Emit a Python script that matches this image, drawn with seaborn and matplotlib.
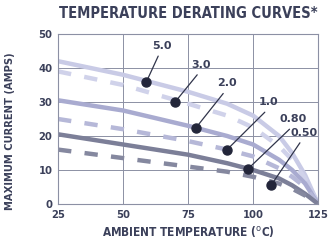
import numpy as np
import pandas as pd
import matplotlib
matplotlib.use('Agg')
import matplotlib.pyplot as plt
import seaborn as sns

# temperature points (deg C)
temps = [25, 50, 75, 90, 100, 110, 115, 120, 125]

# max current (A) for each fuse rating
amps_5_0 = [42, 38, 33, 29.5, 26, 20, 15, 8.5, 0]
amps_3_0 = [39, 35, 29.5, 26, 22.5, 17, 13, 7.5, 0]
amps_2_0 = [30.5, 27.5, 23, 20, 17.5, 13, 10, 6, 0]
amps_1_0 = [25, 22, 18.5, 16, 14, 10.5, 8, 5, 0]
amps_0_80 = [20.5, 17.5, 14.5, 12, 10, 7.5, 5.5, 3, 0]
amps_0_50 = [16, 13.5, 11, 9.5, 8, 6, 4.5, 2.5, 0]

ratings = ['5.0', '3.0', '2.0', '1.0', '0.80', '0.50']
# callout dots: where the leader touches each curve, and where the label sits
dot_x = [59, 70, 78, 90, 98, 107]
dot_y = [36, 30, 22.4, 16, 10.3, 5.6]
label_x = [65, 80, 90, 106, 115.5, 119.5]
label_y = [46.5, 41, 35.5, 30, 25, 21]

series = [amps_5_0, amps_3_0, amps_2_0, amps_1_0, amps_0_80, amps_0_50]
df = pd.DataFrame({
    'temp': temps * len(ratings),
    'amps': sum(series, []),
    'rating': np.repeat(ratings, len(temps)),
})

text_col = '#3b405a'
palette = {'5.0': '#c9cbe6', '3.0': '#d0d2ea', '2.0': '#a9abd0',
           '1.0': '#b6b8d8', '0.80': '#7c7f98', '0.50': '#85889f'}
dashes = {'5.0': '', '3.0': (3, 3), '2.0': '', '1.0': (3, 3),
          '0.80': '', '0.50': (3, 3)}

sns.set_style('white')
fig = plt.figure(figsize=(3.3, 2.5), dpi=100)
ax = fig.add_axes([0.176, 0.184, 0.788, 0.68])

sns.lineplot(data=df, x='temp', y='amps', hue='rating', style='rating',
             palette=palette, dashes=dashes, linewidth=3.2, legend=False, ax=ax)

# callouts
for r, dx, dy, lx, ly in zip(ratings, dot_x, dot_y, label_x, label_y):
    ax.plot([dx, lx - 1.5], [dy, ly - 3], color='#30344a', lw=0.9)
    ax.plot(dx, dy, 'o', color='#23263a', ms=6.5)
    ax.text(lx, ly, r, color=text_col, fontsize=8, fontweight='bold',
            ha='center', va='center')

ax.set_xlim(25, 125)
ax.set_ylim(0, 50)
ax.set_xticks([25, 50, 75, 100, 125])
ax.set_yticks([0, 10, 20, 30, 40, 50])
ax.grid(True, color='#8c90a4', lw=0.7)
for s in ax.spines.values():
    s.set_color('#8c90a4')
    s.set_linewidth(0.8)
ax.tick_params(length=0, labelsize=8, colors=text_col, pad=4)
for t in ax.get_xticklabels() + ax.get_yticklabels():
    t.set_fontweight('bold')
    t.set_fontstretch('condensed')

ax.set_xlabel('AMBIENT TEMPERATURE ($^{\\mathrm{o}}$C)', fontsize=8.5, fontweight='bold',
              color=text_col, fontstretch='condensed', labelpad=3)
ax.set_ylabel('MAXIMUM CURRENT (AMPS)', fontsize=8, fontweight='bold',
              color=text_col, fontstretch='condensed')
ax.yaxis.set_label_coords(-0.165, 0.43)

fig.text(0.57, 0.945, 'TEMPERATURE DERATING CURVES*', ha='center', va='center',
         fontsize=10.5, fontweight='bold', color=text_col, fontstretch='condensed')

fig.savefig('out.png', dpi=100, facecolor='white')
